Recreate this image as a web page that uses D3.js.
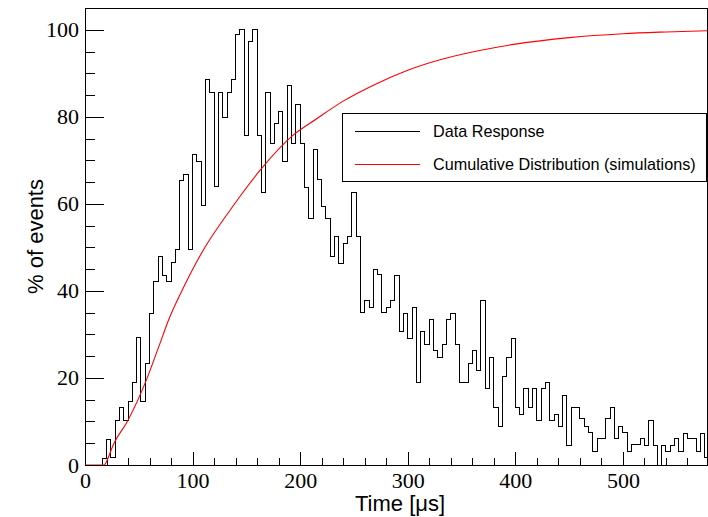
<!DOCTYPE html>
<html>
<head>
<meta charset="utf-8">
<script src="https://cdn.jsdelivr.net/npm/d3@7"></script>
<style>
  body { margin: 0; background: #fff; }
  .tick text { font-family: "Liberation Serif", "Times New Roman", serif; font-size: 22px; fill: #000; }
  .axis path, .axis line { stroke: #000; stroke-width: 1; shape-rendering: crispEdges; }
  .title { font-family: "Liberation Sans", Arial, sans-serif; font-size: 22px; fill: #000; }
  .legtext { font-family: "Liberation Sans", Arial, sans-serif; font-size: 16.2px; fill: #000; }
</style>
</head>
<body>
<div id="chart"></div>
<script>

      // histogram: 4 us bins from 0 to 580, % of events
      var binWidth = 4;
      var dataResponse = [
        0, 0, 0, 0, 1.5, 5.9, 1.7, 10.3, 13.2, 10.3,
        14.7, 19.0, 29.3, 14.7, 23.4, 34.9, 42.1, 48.0, 43.6, 42.1,
        46.5, 49.4, 65.4, 66.8, 49.4, 71.3, 69.7, 59.6, 88.5, 85.6,
        64.0, 85.6, 79.9, 85.6, 88.5, 98.9, 100, 75.6, 97.3, 100,
        75.6, 62.5, 85.7, 73.9, 78.4, 81.3, 69.7, 87.1, 73.9, 82.8,
        73.9, 63.8, 56.7, 72.6, 65.5, 59.5, 56.7, 48.0, 52.5, 46.4,
        50.8, 52.5, 62.5, 52.5, 35.0, 37.8, 36.3, 45.0, 43.7, 35.0,
        36.3, 37.8, 43.6, 30.6, 34.9, 29.1, 36.3, 18.9, 30.6, 27.7,
        33.5, 26.3, 24.8, 27.7, 33.5, 34.9, 27.7, 18.9, 18.9, 23.4,
        26.3, 21.8, 37.8, 17.6, 24.8, 13.3, 8.8, 20.3, 24.8, 29.1,
        13.3, 11.7, 17.6, 13.3, 17.6, 10.3, 17.6, 19.0, 10.3, 11.6,
        8.8, 15.9, 4.4, 13.2, 13.2, 10.7, 8.8, 7.4, 3.1, 6.0,
        6.0, 10.7, 13.2, 6.0, 8.8, 7.4, 3.1, 4.6, 4.6, 6.0,
        4.4, 10.3, 4.4, 0, 4.4, 3.1, 4.4, 6.0, 3.1, 7.3,
        6.0, 6.0, 3.1, 7.3, 1.7
      ];

      // cumulative distribution (simulations)
      var cumTime = [0, 18, 20, 26, 40, 57, 68, 79, 90, 110, 135, 144, 163, 194, 215, 240, 270, 300, 330, 360, 400, 450, 500, 540, 580];
      var cumValue = [0, 0, 0.8, 4.5, 10.3, 19.5, 26.8, 34.1, 40, 49.4, 58.6, 61.7, 67.8, 75.9, 79.5, 83.6, 87.5, 90.7, 93.1, 94.9, 96.7, 98.2, 99.1, 99.5, 99.8];

      var xMajorTicks = [0, 100, 200, 300, 400, 500];
      var xMinorTicks = d3.range(0, 581, 20);
      var yMajorTicks = [0, 20, 40, 60, 80, 100];
      var yMinorTicks = d3.range(0, 106, 5);

      var legendLabels = ["Data Response", "Cumulative Distribution (simulations)"];
      var legendColors = ["#000", "#ff0000"];

      var margin = {top: 8, right: 0, bottom: 52, left: 85};
      var width = 708 - margin.left - margin.right,
          height = 517 - margin.top - margin.bottom;

      var svg = d3.select("#chart").append("svg")
          .attr("width", 708)
          .attr("height", 517);

      var canvas = svg.append("g")
          .attr("transform", "translate(" + margin.left + "," + margin.top + ")");

      var xScale = d3.scaleLinear()
          .domain([0, 580])
          .range([0, 624]);
      var yScale = d3.scaleLinear()
          .domain([0, 105])
          .range([height, 0]);

      canvas.append("clipPath").attr("id", "clip")
        .append("rect")
          .attr("width", width - 1)
          .attr("height", height);

      // minor ticks first, majors on top
      canvas.append("g")
          .attr("class", "x axis")
          .attr("transform", "translate(0," + height + ")")
          .call(d3.axisBottom(xScale).tickValues(xMinorTicks).tickSize(-7).tickFormat(""));
      canvas.append("g")
          .attr("class", "x axis")
          .attr("transform", "translate(0," + height + ")")
          .call(d3.axisBottom(xScale).tickValues(xMajorTicks).tickSize(-13).tickPadding(7).tickFormat(d3.format("d")));

      canvas.append("g")
          .attr("class", "y axis")
          .call(d3.axisLeft(yScale).tickValues(yMinorTicks).tickSize(-10).tickFormat(""));
      canvas.append("g")
          .attr("class", "y axis")
          .call(d3.axisLeft(yScale).tickValues(yMajorTicks).tickSize(-19).tickPadding(6).tickFormat(d3.format("d")));

      // frame
      canvas.append("rect")
          .attr("x", 0.5)
          .attr("y", 0.5)
          .attr("width", width - 1.5)
          .attr("height", height - 0.5)
          .attr("fill", "none")
          .attr("stroke", "#000")
          .attr("shape-rendering", "crispEdges");

      // histogram as a step line
      var histPoints = dataResponse.map(function(v, i) {
          return {x: i * binWidth, y: v};
      });
      histPoints.push({x: dataResponse.length * binWidth, y: dataResponse[dataResponse.length - 1]});

      var stepLine = d3.line()
          .x(function(d) { return xScale(d.x); })
          .y(function(d) { return yScale(d.y); })
          .curve(d3.curveStepAfter);

      canvas.append("path")
          .datum(histPoints)
          .attr("clip-path", "url(#clip)")
          .attr("d", stepLine)
          .attr("fill", "none")
          .attr("stroke", "#000")
          .attr("stroke-width", 1)
          .attr("shape-rendering", "crispEdges");

      // cumulative curve
      var cumData = cumTime.map(function(t, i) { return {x: t, y: cumValue[i]}; });
      var cumLine = d3.line()
          .x(function(d) { return xScale(d.x); })
          .y(function(d) { return yScale(d.y); })
          .curve(d3.curveMonotoneX);

      canvas.append("path")
          .datum(cumData)
          .attr("clip-path", "url(#clip)")
          .attr("d", cumLine)
          .attr("fill", "none")
          .attr("stroke", "#ff0000")
          .attr("stroke-width", 1.1);

      // axis titles
      svg.append("text")
          .attr("class", "title")
          .attr("x", 400)
          .attr("y", 511)
          .attr("text-anchor", "middle")
          .text("Time [\u03bcs]");

      svg.append("text")
          .attr("class", "title")
          .attr("transform", "translate(43," + (margin.top + height / 2) + ") rotate(-90)")
          .attr("text-anchor", "middle")
          .text("% of events");

      // legend
      var legend = svg.append("g");
      legend.append("rect")
          .attr("x", 342.5)
          .attr("y", 113.5)
          .attr("width", 364)
          .attr("height", 68)
          .attr("fill", "#fff")
          .attr("stroke", "#000")
          .attr("shape-rendering", "crispEdges");

      legendLabels.forEach(function(label, i) {
          var ly = 131 + i * 33;
          legend.append("line")
              .attr("x1", 355).attr("x2", 420)
              .attr("y1", ly + 0.5).attr("y2", ly + 0.5)
              .attr("stroke", legendColors[i]);
          legend.append("text")
              .attr("class", "legtext")
              .attr("x", 433)
              .attr("y", ly)
              .attr("dy", "0.36em")
              .text(label);
      });

</script>
</body>
</html>
